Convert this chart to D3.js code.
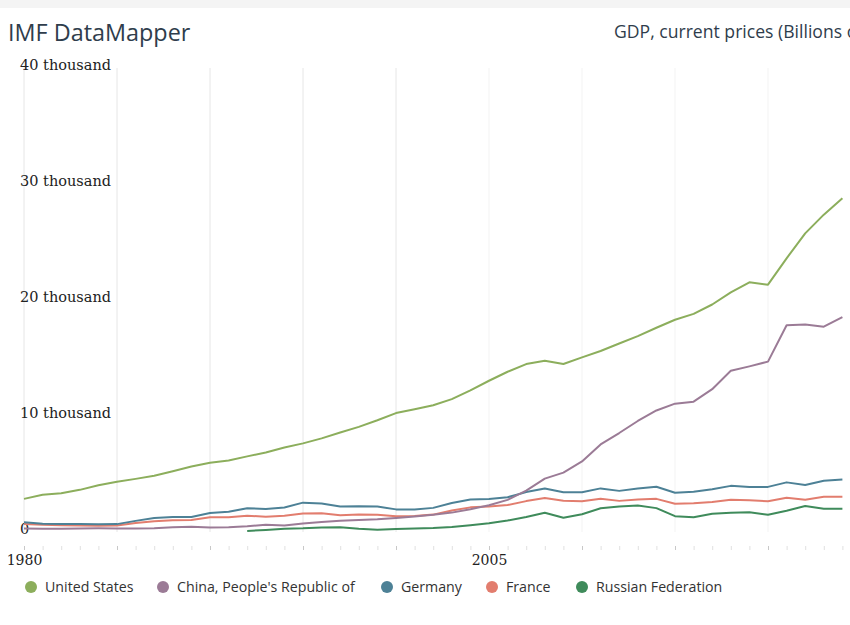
<!DOCTYPE html>
<html>
<head>
<meta charset="utf-8">
<script src="https://cdn.jsdelivr.net/npm/d3@7"></script>
<style>
  html, body { margin: 0; padding: 0; background: #fff; overflow: hidden; }
  svg { display: block; }
</style>
</head>
<body>
<script>
// ---------- DATA (GDP, current prices, billions of U.S. dollars) ----------
const years = [1980,1981,1982,1983,1984,1985,1986,1987,1988,1989,
               1990,1991,1992,1993,1994,1995,1996,1997,1998,1999,
               2000,2001,2002,2003,2004,2005,2006,2007,2008,2009,
               2010,2011,2012,2013,2014,2015,2016,2017,2018,2019,
               2020,2021,2022,2023,2024];

const unitedStates = [2857,3207,3344,3634,4038,4339,4580,4855,5236,5642,
                      5963,6158,6520,6859,7287,7640,8073,8578,9063,9631,
                      10251,10582,10929,11457,12217,13039,13816,14474,14770,14478,
                      15049,15600,16254,16881,17608,18295,18805,19612,20657,21521,
                      21323,23594,25744,27358,28781];

const china = [305,289,285,305,314,310,301,327,410,461,
               398,415,495,623,566,737,868,965,1032,1097,
               1214,1344,1477,1671,1966,2309,2772,3571,4604,5122,
               6087,7552,8532,9571,10476,11062,11233,12310,13895,14280,
               14688,17820,17882,17700,18533];

const germany = [850,720,700,700,660,680,960,1200,1300,1290,
                 1640,1750,2050,1980,2120,2530,2450,2200,2230,2190,
                 1950,1950,2080,2500,2800,2850,3000,3440,3750,3420,
                 3420,3760,3545,3753,3904,3383,3469,3690,3977,3889,
                 3888,4278,4050,4420,4530];

const france = [700,615,585,560,530,553,771,934,1019,1025,
                1269,1269,1401,1323,1394,1601,1606,1452,1503,1493,
                1366,1383,1499,1848,2124,2204,2325,2663,2925,2694,
                2646,2865,2683,2811,2856,2439,2472,2595,2790,2729,
                2647,2959,2780,3030,3030];

const russia = [null,null,null,null,null,null,null,null,null,null,
                null,null,91,183,270,313,392,405,271,196,
                260,307,345,430,591,764,990,1300,1661,1223,
                1525,2046,2208,2293,2059,1363,1277,1574,1657,1693,
                1493,1837,2240,2010,2010];

const seriesNames = ["United States", "China, People's Republic of", "Germany", "France", "Russian Federation"];
const seriesValues = [unitedStates, china, germany, france, russia];
const seriesColors = ["#8cae5c", "#9b7b96", "#4d8196", "#e27d6e", "#3f8b5b"];

const yTickValues = [0, 10000, 20000, 30000, 40000];
const yTickLabels = ["0", "10 thousand", "20 thousand", "30 thousand", "40 thousand"];
const xLabelYears = [1980, 2005, 2030];

// ---------- LAYOUT ----------
const W = 1000, H = 625;
const svg = d3.select("body").append("svg").attr("width", W).attr("height", H);

svg.append("rect").attr("x", 0).attr("y", 0).attr("width", W).attr("height", 8).attr("fill", "#f4f4f4");

const x = d3.scaleLinear().domain([1980, 2024]).range([24, 842.4]);
const y = d3.scaleLinear().domain([0, 40000]).range([532, 68]);

// Title & subtitle
svg.append("text").attr("x", 8).attr("y", 41)
  .attr("font-family", "'Open Sans', sans-serif").attr("font-size", 23.4)
  .attr("fill", "#2f3d4c").text("IMF DataMapper");
svg.append("text").attr("x", 614).attr("y", 38)
  .attr("font-family", "'Open Sans', sans-serif").attr("font-size", 17.6)
  .attr("fill", "#2f3d4c").text("GDP, current prices (Billions of U.S. dollars)");

// Vertical gridlines every 5 years
const gridYears = years.filter(yr => yr % 5 === 0);
svg.append("g").selectAll("line").data(gridYears).join("line")
  .attr("x1", d => x(d)).attr("x2", d => x(d))
  .attr("y1", y(40000)).attr("y2", y(0))
  .attr("stroke", d => d <= 2000 ? "#e6e6e6" : "#f3f3f3").attr("stroke-width", 1);

// X axis (minor ticks each year, labels at selected years)
const xAxis = d3.axisBottom(x)
  .tickValues(years)
  .tickSize(4)
  .tickPadding(6)
  .tickFormat(d => xLabelYears.includes(d) ? String(d) : "");
const gx = svg.append("g").attr("transform", "translate(0,546)").call(xAxis);
gx.select(".domain").remove();
gx.selectAll(".tick line").attr("stroke", d => d % 5 === 0 ? "#c8c8c8" : "#e0e0e0");
gx.selectAll(".tick text")
  .attr("font-family", "'DejaVu Serif', serif").attr("font-size", 14)
  .attr("fill", "#222").attr("y", 9).attr("dy", "0.71em");

// Y axis labels
const yAxis = d3.axisRight(y)
  .tickValues(yTickValues)
  .tickSize(0)
  .tickPadding(0)
  .tickFormat((d, i) => yTickLabels[i]);
const gy = svg.append("g").attr("transform", "translate(20,0)").call(yAxis);
gy.select(".domain").remove();
gy.selectAll(".tick text")
  .attr("font-family", "'DejaVu Serif', serif").attr("font-size", 14.5)
  .attr("fill", "#222").attr("text-anchor", "start").attr("x", 0).attr("dy", "0.1em");

// Lines
const line = d3.line()
  .defined(d => d.v !== null)
  .x(d => x(d.yr))
  .y(d => y(d.v));

// draw in reverse so US is on top (order in legend)
const order = [4, 3, 2, 1, 0];
order.forEach(i => {
  const pts = years.map((yr, j) => ({ yr, v: seriesValues[i][j] }));
  svg.append("path").datum(pts)
    .attr("d", line)
    .attr("fill", "none")
    .attr("stroke", seriesColors[i])
    .attr("stroke-width", 2)
    .attr("stroke-linejoin", "round");
});

// Legend
const legendX = [31, 163, 387, 492, 582];
const lg = svg.append("g");
seriesNames.forEach((name, i) => {
  lg.append("circle").attr("cx", legendX[i]).attr("cy", 587).attr("r", 6).attr("fill", seriesColors[i]);
  lg.append("text").attr("x", legendX[i] + 14).attr("y", 592)
    .attr("font-family", "'Open Sans', sans-serif").attr("font-size", 14.2)
    .attr("fill", "#333").text(name);
});
</script>
</body>
</html>
